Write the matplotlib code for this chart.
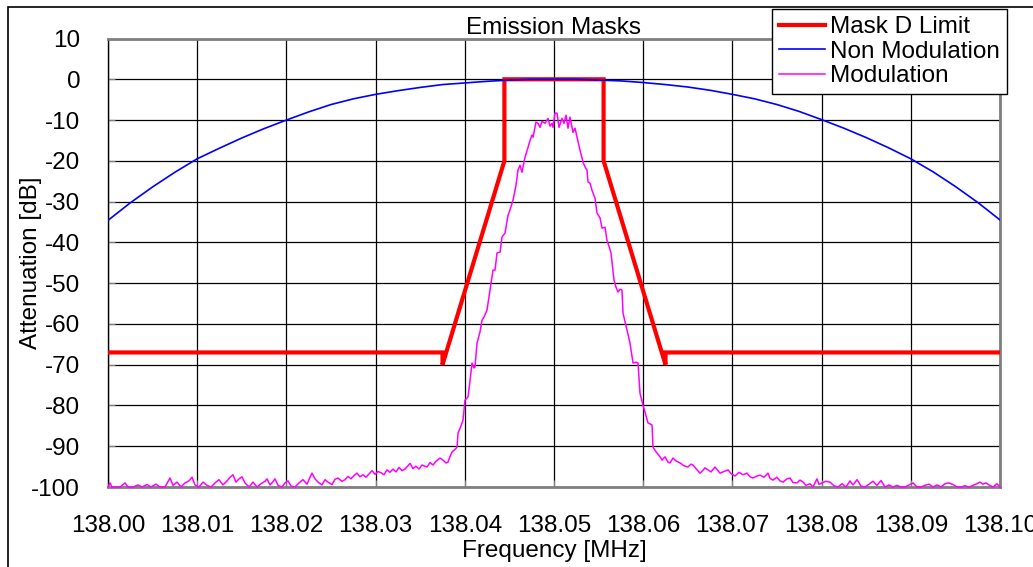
import matplotlib
matplotlib.use("Agg")
import numpy as np
import matplotlib.pyplot as plt
from matplotlib.patches import Rectangle

plt.rcParams["font.family"] = ["Liberation Sans", "DejaVu Sans"]
plt.rcParams["axes.unicode_minus"] = False

F0 = 138.0  # MHz, left edge of the span

# Mask D limit (offsets in kHz from 138.00 MHz, level in dB)
mask_khz = [0.0, 37.5, 37.5, 44.44, 44.44, 55.56, 55.56, 62.5, 62.5, 100.0]
mask_db = [-67, -67, -70, -20, 0, 0, -20, -70, -67, -67]

# Unmodulated carrier response
nonmod_khz = [0.0, 2.5, 5.0, 7.5, 10.0, 12.5, 15.0, 17.5, 20.0, 22.5, 25.0,
              27.5, 30.0, 32.5, 35.0, 37.5, 40.0, 42.5, 45.0, 47.5, 50.0,
              52.5, 55.0, 57.5, 60.0, 62.5, 65.0, 67.5, 70.0, 72.5, 75.0,
              77.5, 80.0, 82.5, 85.0, 87.5, 90.0, 92.5, 95.0, 97.5, 100.0]
nonmod_db = [-34.6, -30.3, -26.4, -22.8, -19.5, -16.9, -14.4, -12.1, -10.0, -8.0, -6.2,
             -4.8, -3.7, -2.8, -2.0, -1.3, -0.9, -0.5, -0.2, 0.0, 0.0,
             0.0, -0.2, -0.4, -0.8, -1.3, -1.9, -2.7, -3.7, -4.8, -6.2,
             -7.9, -9.9, -12.0, -14.3, -16.8, -19.5, -22.7, -26.3, -30.2, -34.5]

# Modulated spectrum trace
mod_khz = [
    0.00, 0.22, 0.45, 0.90, 1.35, 1.91, 2.24, 2.80, 3.36, 3.81, 4.37, 4.82, 5.38, 5.83,
    6.39, 6.95, 7.29, 7.74, 8.18, 8.63, 9.08, 9.42, 9.75, 10.20, 10.65, 11.10, 11.55,
    12.00, 12.44, 12.89, 13.34, 13.68, 14.01, 14.35, 14.69, 15.02, 15.36, 15.81, 16.26,
    16.70, 17.15, 17.60, 17.83, 18.16, 18.50, 18.72, 19.06, 19.51, 19.84, 20.18, 20.52,
    20.96, 21.41, 21.86, 22.31, 22.65, 22.87, 23.21, 23.54, 23.99, 24.33, 24.66, 25.11,
    25.45, 25.78, 26.23, 26.57, 26.91, 27.24, 27.58, 27.91, 28.25, 28.59, 28.92, 29.26,
    29.60, 29.93, 30.27, 30.61, 30.94, 31.28, 31.61, 31.95, 32.29, 32.62, 32.96, 33.30,
    33.63, 33.86, 34.19, 34.53, 34.87, 35.20, 35.54, 35.76, 36.10, 36.44, 36.77, 37.22,
    37.56, 37.89, 38.12, 38.34, 38.57, 38.90, 39.13, 39.24, 39.57, 39.80, 40.02, 40.36,
    40.58, 40.81, 41.03, 41.14, 41.37, 41.70, 41.93, 42.15, 42.49, 42.83, 43.16, 43.39,
    43.61, 43.95, 44.17, 44.51, 44.84, 45.07, 45.40, 45.74, 45.96, 46.19, 46.41, 46.75,
    47.09, 47.31, 47.53, 47.65, 47.98, 48.21, 48.43, 48.65, 48.99, 49.33, 49.55, 49.78,
    49.89, 50.11, 50.34, 50.56, 50.90, 51.12, 51.35, 51.57, 51.79, 52.13, 52.36, 52.58,
    52.92, 53.25, 53.48, 53.70, 53.81, 54.04, 54.26, 54.60, 54.82, 55.16, 55.38, 55.72,
    55.94, 56.17, 56.39, 56.73, 56.95, 57.18, 57.40, 57.62, 57.74, 57.96, 58.18, 58.52,
    58.86, 59.19, 59.42, 59.64, 59.98, 60.20, 60.54, 60.76, 60.99, 61.10, 61.32, 61.55,
    61.89, 62.11, 62.45, 62.78, 63.01, 63.34, 63.68, 64.13, 64.57, 65.02, 65.36, 65.58,
    65.92, 66.37, 66.70, 66.93, 67.26, 67.60, 68.05, 68.39, 68.61, 69.06, 69.51, 69.84,
    70.29, 70.74, 71.19, 71.64, 71.97, 72.31, 72.76, 73.09, 73.54, 73.99, 74.22, 74.55,
    75.00, 75.34, 75.67, 76.12, 76.46, 76.79, 77.24, 77.58, 77.92, 78.25, 78.70, 79.04,
    79.26, 79.48, 79.71, 80.05, 80.49, 80.94, 81.39, 81.84, 82.29, 82.74, 83.18, 83.52,
    83.97, 84.42, 84.87, 85.31, 85.76, 86.21, 86.66, 87.11, 87.56, 88.00, 88.45, 88.90,
    89.35, 89.80, 90.25, 90.70, 91.14, 91.59, 92.04, 92.49, 92.94, 93.39, 93.83, 94.28,
    94.73, 95.18, 95.63, 96.08, 96.53, 96.97, 97.42, 97.76, 98.09, 98.43, 98.77, 99.22,
    99.66, 100.00]
mod_db = [
    -100, -99.0, -100, -100, -100, -99.0, -100, -100, -99.5, -100, -99.4, -100, -99.3, -100,
    -100, -97.8, -99.6, -98.8, -100, -99.0, -98.5, -97.6, -99.5, -100, -98.8, -99.6, -100,
    -99.0, -98.2, -99.5, -98.5, -97.6, -97.0, -98.8, -98.0, -97.5, -99.0, -100, -98.8,
    -100, -99.2, -98.6, -98.0, -99.5, -98.7, -98.0, -99.6, -100, -99.0, -98.5, -99.8,
    -100, -99.0, -98.2, -99.3, -97.6, -96.6, -98.0, -98.8, -99.5, -98.2, -98.8, -99.4,
    -98.1, -97.8, -98.6, -98.2, -97.4, -98.0, -97.2, -96.6, -97.5, -97.0, -97.6, -96.8,
    -96.0, -96.9, -96.2, -96.5, -97.0, -95.8, -96.4, -95.6, -96.3, -95.2, -96.0, -95.6,
    -94.8, -94.2, -95.5, -94.9, -95.6, -94.6, -94.9, -95.1, -94.0, -94.6, -93.7, -92.9,
    -93.4, -94.1, -93.9, -92.5, -91.4, -90.8, -90.2, -86.8, -85.0, -83.6, -78.7, -77.9,
    -74.0, -69.6, -70.8, -70.6, -64.7, -62.0, -59.1, -58.3, -56.6, -51.7, -46.8, -46.8,
    -42.6, -42.4, -38.7, -37.7, -33.4, -32.0, -29.7, -26.0, -22.3, -21.1, -22.8, -19.1,
    -16.7, -15.0, -13.7, -14.2, -10.5, -10.8, -11.8, -10.3, -10.8, -9.6, -11.5, -10.8,
    -11.8, -8.3, -8.3, -11.8, -9.6, -10.8, -8.8, -12.0, -9.3, -13.0, -12.0, -14.2,
    -17.4, -20.3, -21.5, -22.3, -25.2, -25.5, -27.2, -29.2, -32.8, -34.0, -36.5, -36.3,
    -39.5, -41.0, -42.6, -49.3, -51.0, -52.2, -51.5, -51.7, -57.4, -59.5, -61.5, -64.7,
    -69.6, -69.4, -69.6, -77.0, -80.0, -81.6, -84.3, -84.5, -84.8, -90.2, -91.0, -91.7,
    -92.6, -93.4, -92.6, -93.9, -94.1, -92.9, -93.6, -94.1, -94.8, -95.1, -94.4, -94.6,
    -95.5, -96.6, -95.9, -95.3, -95.8, -96.3, -95.1, -96.0, -96.6, -96.2, -95.8, -96.7,
    -97.3, -96.4, -97.0, -96.6, -97.5, -97.8, -97.3, -97.1, -97.6, -96.6, -97.9, -98.3,
    -97.6, -98.5, -98.8, -98.0, -97.8, -98.9, -99.0, -98.3, -98.8, -99.6, -99.2, -100,
    -99.0, -98.0, -99.4, -99.0, -98.6, -98.8, -99.7, -100, -99.2, -100, -98.5, -99.5,
    -98.2, -99.8, -100, -99.3, -98.6, -99.6, -98.4, -100, -99.5, -100, -99.6, -100,
    -100, -99.5, -99.0, -100, -100, -99.6, -99.3, -100, -99.5, -100, -99.2, -99.0,
    -99.4, -100, -100, -99.7, -100, -99.6, -99.2, -98.8, -99.3, -99.0, -99.5, -100,
    -99.2, -100]

x_ticks = [138.00, 138.01, 138.02, 138.03, 138.04, 138.05, 138.06, 138.07, 138.08, 138.09, 138.10]
y_ticks = [10, 0, -10, -20, -30, -40, -50, -60, -70, -80, -90, -100]


def to_mhz(khz):
    return F0 + np.asarray(khz) / 1000.0


fig = plt.figure(figsize=(10.33, 5.67), dpi=100)
ax = fig.add_axes([108 / 1033, 1 - 487 / 567, 892 / 1033, 448.5 / 567])

ax.plot(to_mhz(mask_khz), mask_db, color="#ff0000", lw=3.0,
        solid_joinstyle="miter", label="Mask D Limit", zorder=3)
ax.plot(to_mhz(nonmod_khz), nonmod_db, color="#0000ff", lw=1.2,
        label="Non Modulation", zorder=4)
ax.plot(to_mhz(mod_khz), mod_db, color="#ff00ff", lw=1.1,
        label="Modulation", zorder=5, clip_on=False)

ax.set_xlim(138.0, 138.1)
ax.set_ylim(-100, 10)
ax.set_xticks(x_ticks)
ax.set_xticklabels([f"{t:.2f}" for t in x_ticks])
ax.set_yticks(y_ticks)
ax.grid(True, color="black", lw=0.9)
ax.set_axisbelow(True)
ax.tick_params(axis="both", direction="in", length=5, color="#808080",
               labelsize=17.5)
ax.tick_params(axis="y", pad=20)
ax.tick_params(axis="x", pad=20)

for side in ["top", "right", "bottom"]:
    ax.spines[side].set_color("#808080")
    ax.spines[side].set_linewidth(2.0)
ax.spines["left"].set_color("black")
ax.spines["left"].set_linewidth(1.0)

ax.set_title("Emission Masks", fontsize=17.5, pad=2)
ax.set_xlabel("Frequency [MHz]", fontsize=17.5, labelpad=2)
ax.set_ylabel("Attenuation [dB]", fontsize=17.5)
ax.yaxis.set_label_coords(-0.074, 0.5)

leg = ax.legend(loc="upper right", bbox_to_anchor=(1007 / 1033, 1 - 9 / 567),
                bbox_transform=fig.transFigure, fontsize=17.5, frameon=True,
                fancybox=False, borderaxespad=0, borderpad=0.3,
                labelspacing=0.1, handlelength=1.9, handletextpad=0.2)
leg.get_frame().set_edgecolor("black")
leg.get_frame().set_linewidth(1.0)
leg.get_frame().set_alpha(1)
leg.set_zorder(10)

# outer chart border
fig.patches.append(Rectangle((8 / 1033, -0.05), 1.1, 1 - 7 / 567 + 0.05,
                             transform=fig.transFigure, fill=False,
                             edgecolor="black", lw=1.2))

fig.savefig("out.png", dpi=100)
